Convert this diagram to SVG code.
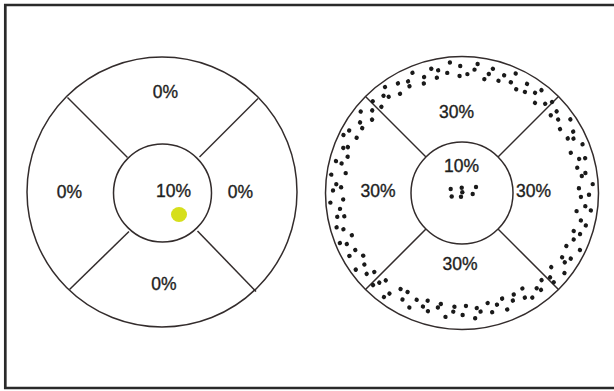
<svg xmlns="http://www.w3.org/2000/svg" width="614" height="391" viewBox="0 0 614 391">
<style>
.ln{fill:none;stroke:#332c2c;stroke-width:1.5}
.t{font-family:"Liberation Sans",Arial,sans-serif;font-size:17.5px;fill:#1e1e1e;stroke:#1e1e1e;stroke-width:0.35;text-anchor:middle}
.d circle{fill:#1a1a1a}
</style>
<rect width="614" height="391" fill="#fff"/>
<path d="M614,5 H5.3 V388 H614" fill="none" stroke="#2a2a2a" stroke-width="2.7"/>

<g id="left-diagram">
  <g id="left-outline">
    <circle class="ln" cx="162" cy="192" r="135"/>
    <circle class="ln" cx="162.5" cy="193" r="49"/>
  </g>
  <g id="left-dividers">
    <line class="ln" x1="67.5" y1="97.5" x2="127.5" y2="157.5"/>
    <line class="ln" x1="258" y1="98.5" x2="199.5" y2="157"/>
    <line class="ln" x1="69.5" y1="289.5" x2="129" y2="231.5"/>
    <line class="ln" x1="256" y1="291.5" x2="197.5" y2="231"/>
  </g>
  <g id="left-top"><text class="t" x="165.5" y="98">0%</text></g>
  <g id="left-left"><text class="t" x="69.5" y="198">0%</text></g>
  <g id="left-right"><text class="t" x="240.5" y="198">0%</text></g>
  <g id="left-bottom"><text class="t" x="164" y="290">0%</text></g>
  <g id="left-center">
    <text class="t" x="173.5" y="197">10%</text>
    <ellipse cx="179" cy="214.5" rx="8" ry="7.5" fill="#d6df1c"/>
  </g>
</g>

<g id="right-diagram">
  <g id="right-outline">
    <circle class="ln" cx="462" cy="193" r="136.5"/>
    <circle class="ln" cx="462" cy="193" r="51"/>
  </g>
  <g id="right-dividers">
    <line class="ln" x1="365.5" y1="96.5" x2="426" y2="157"/>
    <line class="ln" x1="558.5" y1="96.5" x2="498" y2="157"/>
    <line class="ln" x1="365.5" y1="289.5" x2="426" y2="229"/>
    <line class="ln" x1="558.5" y1="289.5" x2="498" y2="229"/>
  </g>
  <g id="right-top"><text class="t" x="456.5" y="118">30%</text></g>
  <g id="right-left"><text class="t" x="378" y="197">30%</text></g>
  <g id="right-right"><text class="t" x="533.5" y="197">30%</text></g>
  <g id="right-bottom"><text class="t" x="460" y="270">30%</text></g>
  <g id="right-center">
    <text class="t" x="461.5" y="172">10%</text>
    <g class="d">
      <circle cx="450.7" cy="189" r="2.2"/>
      <circle cx="451.7" cy="196.5" r="2.2"/>
      <circle cx="461.7" cy="187.7" r="2.2"/>
      <circle cx="462.3" cy="192.3" r="2.2"/>
      <circle cx="461" cy="196.7" r="2.2"/>
      <circle cx="472.7" cy="194" r="2.2"/>
      <circle cx="476" cy="187" r="2.2"/>
    </g>
  </g>
  <g id="right-ring-dots" class="d" transform="translate(462 193)">
<circle cx="127" r="2.2" transform="rotate(0.8)"/>
<circle cx="119" r="2.2" transform="rotate(1.9)"/>
<circle cx="124" r="2.2" transform="rotate(6.1)"/>
<circle cx="130" r="2.2" transform="rotate(7.7)"/>
<circle cx="116" r="2.2" transform="rotate(9)"/>
<circle cx="122" r="2.2" transform="rotate(13)"/>
<circle cx="128" r="2.2" transform="rotate(14.7)"/>
<circle cx="118" r="2.2" transform="rotate(18.8)"/>
<circle cx="125" r="2.2" transform="rotate(19.2)"/>
<circle cx="121" r="2.2" transform="rotate(22.6)"/>
<circle cx="131" r="2.2" transform="rotate(25.8)"/>
<circle cx="117" r="2.2" transform="rotate(26.9)"/>
<circle cx="127" r="2.2" transform="rotate(31.1)"/>
<circle cx="119" r="2.2" transform="rotate(32.7)"/>
<circle cx="124" r="2.2" transform="rotate(34)"/>
<circle cx="130" r="2.2" transform="rotate(38)"/>
<circle cx="116" r="2.2" transform="rotate(39.7)"/>
<circle cx="122" r="2.2" transform="rotate(43.8)"/>
<circle cx="128" r="2.2" transform="rotate(44.2)"/>
<circle cx="118" r="2.2" transform="rotate(47.6)"/>
<circle cx="125" r="2.2" transform="rotate(50.8)"/>
<circle cx="121" r="2.2" transform="rotate(51.9)"/>
<circle cx="126" r="2.2" transform="rotate(56.1)"/>
<circle cx="113" r="2.2" transform="rotate(57.7)"/>
<circle cx="122" r="2.2" transform="rotate(59)"/>
<circle cx="114" r="2.2" transform="rotate(63)"/>
<circle cx="119" r="2.2" transform="rotate(64.7)"/>
<circle cx="125" r="2.2" transform="rotate(68.8)"/>
<circle cx="113" r="2.2" transform="rotate(69.2)"/>
<circle cx="117" r="2.2" transform="rotate(72.6)"/>
<circle cx="123" r="2.2" transform="rotate(75.8)"/>
<circle cx="113" r="2.2" transform="rotate(76.9)"/>
<circle cx="120" r="2.2" transform="rotate(81.1)"/>
<circle cx="116" r="2.2" transform="rotate(82.7)"/>
<circle cx="126" r="2.2" transform="rotate(84)"/>
<circle cx="113" r="2.2" transform="rotate(88)"/>
<circle cx="122" r="2.2" transform="rotate(89.7)"/>
<circle cx="114" r="2.2" transform="rotate(93.8)"/>
<circle cx="119" r="2.2" transform="rotate(94.2)"/>
<circle cx="125" r="2.2" transform="rotate(97.6)"/>
<circle cx="113" r="2.2" transform="rotate(100.8)"/>
<circle cx="117" r="2.2" transform="rotate(101.9)"/>
<circle cx="123" r="2.2" transform="rotate(106.1)"/>
<circle cx="113" r="2.2" transform="rotate(107.7)"/>
<circle cx="120" r="2.2" transform="rotate(109)"/>
<circle cx="116" r="2.2" transform="rotate(113)"/>
<circle cx="126" r="2.2" transform="rotate(114.7)"/>
<circle cx="113" r="2.2" transform="rotate(118.8)"/>
<circle cx="122" r="2.2" transform="rotate(119.2)"/>
<circle cx="114" r="2.2" transform="rotate(122.6)"/>
<circle cx="124" r="2.2" transform="rotate(125.8)"/>
<circle cx="130" r="2.2" transform="rotate(126.9)"/>
<circle cx="116" r="2.2" transform="rotate(131.1)"/>
<circle cx="122" r="2.2" transform="rotate(132.7)"/>
<circle cx="128" r="2.2" transform="rotate(134)"/>
<circle cx="118" r="2.2" transform="rotate(138)"/>
<circle cx="125" r="2.2" transform="rotate(139.7)"/>
<circle cx="121" r="2.2" transform="rotate(143.8)"/>
<circle cx="131" r="2.2" transform="rotate(144.2)"/>
<circle cx="117" r="2.2" transform="rotate(147.6)"/>
<circle cx="129" r="2.2" transform="rotate(150.8)"/>
<circle cx="121" r="2.2" transform="rotate(151.9)"/>
<circle cx="126" r="2.2" transform="rotate(156.1)"/>
<circle cx="132" r="2.2" transform="rotate(157.7)"/>
<circle cx="118" r="2.2" transform="rotate(159)"/>
<circle cx="124" r="2.2" transform="rotate(163)"/>
<circle cx="130" r="2.2" transform="rotate(164.7)"/>
<circle cx="120" r="2.2" transform="rotate(168.8)"/>
<circle cx="127" r="2.2" transform="rotate(169.2)"/>
<circle cx="123" r="2.2" transform="rotate(172.6)"/>
<circle cx="132" r="2.2" transform="rotate(175.8)"/>
<circle cx="119" r="2.2" transform="rotate(176.9)"/>
<circle cx="129" r="2.2" transform="rotate(181.1)"/>
<circle cx="121" r="2.2" transform="rotate(182.7)"/>
<circle cx="126" r="2.2" transform="rotate(184)"/>
<circle cx="132" r="2.2" transform="rotate(188)"/>
<circle cx="118" r="2.2" transform="rotate(189.7)"/>
<circle cx="124" r="2.2" transform="rotate(193.8)"/>
<circle cx="130" r="2.2" transform="rotate(194.2)"/>
<circle cx="120" r="2.2" transform="rotate(197.6)"/>
<circle cx="127" r="2.2" transform="rotate(200.8)"/>
<circle cx="123" r="2.2" transform="rotate(201.9)"/>
<circle cx="132" r="2.2" transform="rotate(206.1)"/>
<circle cx="119" r="2.2" transform="rotate(207.7)"/>
<circle cx="129" r="2.2" transform="rotate(209)"/>
<circle cx="119" r="2.2" transform="rotate(213)"/>
<circle cx="124" r="2.2" transform="rotate(214.7)"/>
<circle cx="130" r="2.2" transform="rotate(218.8)"/>
<circle cx="116" r="2.2" transform="rotate(219.2)"/>
<circle cx="122" r="2.2" transform="rotate(222.6)"/>
<circle cx="128" r="2.2" transform="rotate(225.8)"/>
<circle cx="118" r="2.2" transform="rotate(226.9)"/>
<circle cx="125" r="2.2" transform="rotate(231.1)"/>
<circle cx="121" r="2.2" transform="rotate(232.7)"/>
<circle cx="131" r="2.2" transform="rotate(234)"/>
<circle cx="117" r="2.2" transform="rotate(238)"/>
<circle cx="127" r="2.2" transform="rotate(239.7)"/>
<circle cx="119" r="2.2" transform="rotate(243.8)"/>
<circle cx="124" r="2.2" transform="rotate(244.2)"/>
<circle cx="130" r="2.2" transform="rotate(247.6)"/>
<circle cx="116" r="2.2" transform="rotate(250.8)"/>
<circle cx="122" r="2.2" transform="rotate(251.9)"/>
<circle cx="128" r="2.2" transform="rotate(256.1)"/>
<circle cx="118" r="2.2" transform="rotate(257.7)"/>
<circle cx="125" r="2.2" transform="rotate(259)"/>
<circle cx="121" r="2.2" transform="rotate(263)"/>
<circle cx="131" r="2.2" transform="rotate(264.7)"/>
<circle cx="117" r="2.2" transform="rotate(268.8)"/>
<circle cx="127" r="2.2" transform="rotate(269.2)"/>
<circle cx="119" r="2.2" transform="rotate(272.6)"/>
<circle cx="124" r="2.2" transform="rotate(275.8)"/>
<circle cx="130" r="2.2" transform="rotate(276.9)"/>
<circle cx="116" r="2.2" transform="rotate(281.1)"/>
<circle cx="122" r="2.2" transform="rotate(282.7)"/>
<circle cx="128" r="2.2" transform="rotate(284)"/>
<circle cx="118" r="2.2" transform="rotate(288)"/>
<circle cx="125" r="2.2" transform="rotate(289.7)"/>
<circle cx="121" r="2.2" transform="rotate(293.8)"/>
<circle cx="131" r="2.2" transform="rotate(294.2)"/>
<circle cx="117" r="2.2" transform="rotate(297.6)"/>
<circle cx="127" r="2.2" transform="rotate(300.8)"/>
<circle cx="119" r="2.2" transform="rotate(301.9)"/>
<circle cx="124" r="2.2" transform="rotate(306.1)"/>
<circle cx="130" r="2.2" transform="rotate(307.7)"/>
<circle cx="116" r="2.2" transform="rotate(309)"/>
<circle cx="122" r="2.2" transform="rotate(313)"/>
<circle cx="128" r="2.2" transform="rotate(314.7)"/>
<circle cx="118" r="2.2" transform="rotate(318.8)"/>
<circle cx="125" r="2.2" transform="rotate(319.2)"/>
<circle cx="121" r="2.2" transform="rotate(322.6)"/>
<circle cx="131" r="2.2" transform="rotate(325.8)"/>
<circle cx="117" r="2.2" transform="rotate(326.9)"/>
<circle cx="127" r="2.2" transform="rotate(331.1)"/>
<circle cx="119" r="2.2" transform="rotate(332.7)"/>
<circle cx="124" r="2.2" transform="rotate(334)"/>
<circle cx="130" r="2.2" transform="rotate(338)"/>
<circle cx="116" r="2.2" transform="rotate(339.7)"/>
<circle cx="122" r="2.2" transform="rotate(343.8)"/>
<circle cx="128" r="2.2" transform="rotate(344.2)"/>
<circle cx="118" r="2.2" transform="rotate(347.6)"/>
<circle cx="125" r="2.2" transform="rotate(350.8)"/>
<circle cx="121" r="2.2" transform="rotate(351.9)"/>
<circle cx="131" r="2.2" transform="rotate(356.1)"/>
<circle cx="117" r="2.2" transform="rotate(357.7)"/>
  </g>
</g>
</svg>
